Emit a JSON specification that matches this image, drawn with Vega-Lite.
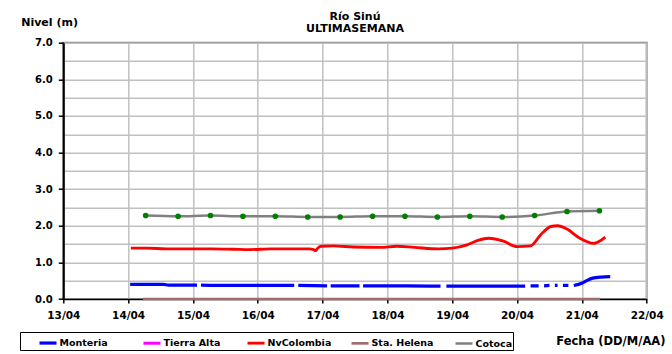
{
  "$schema": "https://vega.github.io/schema/vega-lite/v6.json",
  "width": 583.4,
  "height": 256.3,
  "autosize": {"type": "none"},
  "padding": {"left": 63.3, "top": 42.7, "right": 25.3, "bottom": 55},
  "background": "white",
  "title": {
    "text": ["Río Sinú", "ULTIMASEMANA"],
    "anchor": "middle",
    "frame": "group",
    "font": "DejaVu Sans",
    "fontSize": 11,
    "fontWeight": "bold",
    "color": "black",
    "lineHeight": 12.6,
    "offset": 0,
    "dy": 17.5
  },
  "config": {
    "view": {"stroke": "#808080", "strokeWidth": 2},
    "font": "DejaVu Sans"
  },
  "data": {
    "values": [
      {"serie": "Monteria", "fecha": "2024-04-14T00:45", "nivel": 0.40},
      {"serie": "Monteria", "fecha": "2024-04-14T13:00", "nivel": 0.40},
      {"serie": "Monteria", "fecha": "2024-04-14T15:00", "nivel": 0.38},
      {"serie": "Monteria", "fecha": "2024-04-15T01:30", "nivel": 0.38},
      {"serie": "Monteria", "fecha": "2024-04-15T02:10", "nivel": null},
      {"serie": "Monteria", "fecha": "2024-04-15T03:00", "nivel": 0.38},
      {"serie": "Monteria", "fecha": "2024-04-15T14:00", "nivel": 0.37},
      {"serie": "Monteria", "fecha": "2024-04-16T13:30", "nivel": 0.37},
      {"serie": "Monteria", "fecha": "2024-04-16T14:10", "nivel": null},
      {"serie": "Monteria", "fecha": "2024-04-16T15:00", "nivel": 0.37},
      {"serie": "Monteria", "fecha": "2024-04-17T01:40", "nivel": 0.36},
      {"serie": "Monteria", "fecha": "2024-04-17T02:25", "nivel": null},
      {"serie": "Monteria", "fecha": "2024-04-17T03:00", "nivel": 0.36},
      {"serie": "Monteria", "fecha": "2024-04-17T13:40", "nivel": 0.36},
      {"serie": "Monteria", "fecha": "2024-04-17T14:25", "nivel": null},
      {"serie": "Monteria", "fecha": "2024-04-17T15:00", "nivel": 0.36},
      {"serie": "Monteria", "fecha": "2024-04-18T07:00", "nivel": 0.36},
      {"serie": "Monteria", "fecha": "2024-04-18T19:40", "nivel": 0.35},
      {"serie": "Monteria", "fecha": "2024-04-18T20:40", "nivel": null},
      {"serie": "Monteria", "fecha": "2024-04-18T21:50", "nivel": 0.35},
      {"serie": "Monteria", "fecha": "2024-04-19T12:00", "nivel": 0.35},
      {"serie": "Monteria", "fecha": "2024-04-20T03:00", "nivel": 0.35},
      {"serie": "Monteria", "fecha": "2024-04-20T04:00", "nivel": null},
      {"serie": "Monteria", "fecha": "2024-04-20T05:00", "nivel": 0.36},
      {"serie": "Monteria", "fecha": "2024-04-20T08:00", "nivel": 0.36},
      {"serie": "Monteria", "fecha": "2024-04-20T09:00", "nivel": null},
      {"serie": "Monteria", "fecha": "2024-04-20T10:00", "nivel": 0.36},
      {"serie": "Monteria", "fecha": "2024-04-20T12:00", "nivel": 0.37},
      {"serie": "Monteria", "fecha": "2024-04-20T13:00", "nivel": null},
      {"serie": "Monteria", "fecha": "2024-04-20T14:00", "nivel": 0.37},
      {"serie": "Monteria", "fecha": "2024-04-20T15:00", "nivel": 0.37},
      {"serie": "Monteria", "fecha": "2024-04-20T16:00", "nivel": null},
      {"serie": "Monteria", "fecha": "2024-04-20T17:00", "nivel": 0.37},
      {"serie": "Monteria", "fecha": "2024-04-20T19:00", "nivel": 0.37},
      {"serie": "Monteria", "fecha": "2024-04-20T20:00", "nivel": null},
      {"serie": "Monteria", "fecha": "2024-04-20T21:00", "nivel": 0.37},
      {"serie": "Monteria", "fecha": "2024-04-21T00:00", "nivel": 0.43},
      {"serie": "Monteria", "fecha": "2024-04-21T02:00", "nivel": 0.51},
      {"serie": "Monteria", "fecha": "2024-04-21T04:00", "nivel": 0.57},
      {"serie": "Monteria", "fecha": "2024-04-21T07:00", "nivel": 0.60},
      {"serie": "Monteria", "fecha": "2024-04-21T10:30", "nivel": 0.61},

      {"serie": "NvColombia", "fecha": "2024-04-14T01:00", "nivel": 1.39},
      {"serie": "NvColombia", "fecha": "2024-04-14T07:00", "nivel": 1.39},
      {"serie": "NvColombia", "fecha": "2024-04-14T14:00", "nivel": 1.37},
      {"serie": "NvColombia", "fecha": "2024-04-15T00:00", "nivel": 1.37},
      {"serie": "NvColombia", "fecha": "2024-04-15T07:00", "nivel": 1.37},
      {"serie": "NvColombia", "fecha": "2024-04-15T15:00", "nivel": 1.36},
      {"serie": "NvColombia", "fecha": "2024-04-15T21:00", "nivel": 1.35},
      {"serie": "NvColombia", "fecha": "2024-04-16T05:00", "nivel": 1.37},
      {"serie": "NvColombia", "fecha": "2024-04-16T12:00", "nivel": 1.37},
      {"serie": "NvColombia", "fecha": "2024-04-16T19:00", "nivel": 1.37},
      {"serie": "NvColombia", "fecha": "2024-04-16T20:40", "nivel": 1.35},
      {"serie": "NvColombia", "fecha": "2024-04-16T21:20", "nivel": 1.32},
      {"serie": "NvColombia", "fecha": "2024-04-16T22:20", "nivel": 1.40},
      {"serie": "NvColombia", "fecha": "2024-04-16T23:30", "nivel": 1.44},
      {"serie": "NvColombia", "fecha": "2024-04-17T04:00", "nivel": 1.45},
      {"serie": "NvColombia", "fecha": "2024-04-17T11:30", "nivel": 1.42},
      {"serie": "NvColombia", "fecha": "2024-04-17T21:20", "nivel": 1.41},
      {"serie": "NvColombia", "fecha": "2024-04-18T03:30", "nivel": 1.44},
      {"serie": "NvColombia", "fecha": "2024-04-18T10:00", "nivel": 1.41},
      {"serie": "NvColombia", "fecha": "2024-04-18T19:00", "nivel": 1.37},
      {"serie": "NvColombia", "fecha": "2024-04-19T00:00", "nivel": 1.39},
      {"serie": "NvColombia", "fecha": "2024-04-19T05:30", "nivel": 1.48},
      {"serie": "NvColombia", "fecha": "2024-04-19T09:30", "nivel": 1.60},
      {"serie": "NvColombia", "fecha": "2024-04-19T13:30", "nivel": 1.66},
      {"serie": "NvColombia", "fecha": "2024-04-19T19:00", "nivel": 1.58},
      {"serie": "NvColombia", "fecha": "2024-04-20T00:00", "nivel": 1.43},
      {"serie": "NvColombia", "fecha": "2024-04-20T05:00", "nivel": 1.45},
      {"serie": "NvColombia", "fecha": "2024-04-20T08:40", "nivel": 1.75},
      {"serie": "NvColombia", "fecha": "2024-04-20T12:30", "nivel": 1.98},
      {"serie": "NvColombia", "fecha": "2024-04-20T15:00", "nivel": 2.00},
      {"serie": "NvColombia", "fecha": "2024-04-20T18:30", "nivel": 1.91},
      {"serie": "NvColombia", "fecha": "2024-04-20T23:15", "nivel": 1.66},
      {"serie": "NvColombia", "fecha": "2024-04-21T04:20", "nivel": 1.52},
      {"serie": "NvColombia", "fecha": "2024-04-21T07:00", "nivel": 1.60},
      {"serie": "NvColombia", "fecha": "2024-04-21T08:40", "nivel": 1.69},

      {"serie": "Sta. Helena", "fecha": "2024-04-14T05:30", "nivel": 0.0},
      {"serie": "Sta. Helena", "fecha": "2024-04-21T06:45", "nivel": 0.0},

      {"serie": "Cotoca", "fecha": "2024-04-14T06:30", "nivel": 2.28},
      {"serie": "Cotoca", "fecha": "2024-04-14T18:30", "nivel": 2.26},
      {"serie": "Cotoca", "fecha": "2024-04-15T06:30", "nivel": 2.28},
      {"serie": "Cotoca", "fecha": "2024-04-15T18:30", "nivel": 2.26},
      {"serie": "Cotoca", "fecha": "2024-04-16T06:30", "nivel": 2.26},
      {"serie": "Cotoca", "fecha": "2024-04-16T18:30", "nivel": 2.24},
      {"serie": "Cotoca", "fecha": "2024-04-17T06:30", "nivel": 2.24},
      {"serie": "Cotoca", "fecha": "2024-04-17T18:30", "nivel": 2.26},
      {"serie": "Cotoca", "fecha": "2024-04-18T06:30", "nivel": 2.26},
      {"serie": "Cotoca", "fecha": "2024-04-18T18:30", "nivel": 2.24},
      {"serie": "Cotoca", "fecha": "2024-04-19T06:30", "nivel": 2.26},
      {"serie": "Cotoca", "fecha": "2024-04-19T18:30", "nivel": 2.24},
      {"serie": "Cotoca", "fecha": "2024-04-20T06:30", "nivel": 2.28},
      {"serie": "Cotoca", "fecha": "2024-04-20T18:30", "nivel": 2.39},
      {"serie": "Cotoca", "fecha": "2024-04-21T06:30", "nivel": 2.41}
    ]
  },
  "encoding": {
    "x": {
      "field": "fecha",
      "type": "temporal",
      "scale": {"domain": [{"year": 2024, "month": 4, "date": 13}, {"year": 2024, "month": 4, "date": 22}]},
      "axis": {
        "format": "%d/%m",
        "tickCount": {"interval": "day", "step": 1},
        "labelFlush": false,
        "labelOverlap": false,
        "labelFont": "DejaVu Sans",
        "labelFontSize": 10.5,
        "labelFontWeight": "bold",
        "labelColor": "black",
        "labelPadding": 7,
        "domainColor": "black",
        "domainWidth": 1.5,
        "tickColor": "black",
        "tickSize": 4,
        "tickWidth": 1.5,
        "grid": true,
        "gridColor": "#c0c0c0",
        "gridWidth": 1.5,
        "title": "Fecha (DD/M/AA)",
        "titleFont": "DejaVu Sans",
        "titleFontSize": 11.5,
        "titleFontWeight": "bold",
        "titleColor": "black",
        "titleX": 601.7,
        "titleY": 42.7,
        "titleAlign": "right",
        "titleBaseline": "middle"
      }
    },
    "y": {
      "field": "nivel",
      "type": "quantitative",
      "scale": {"domain": [0, 7], "nice": false},
      "axis": {
        "values": [0, 0.5, 1, 1.5, 2, 2.5, 3, 3.5, 4, 4.5, 5, 5.5, 6, 6.5, 7],
        "labelExpr": "datum.value % 1 === 0 ? format(datum.value, '.1f') : ''",
        "labelFont": "DejaVu Sans",
        "labelFontSize": 10,
        "labelFontWeight": "bold",
        "labelColor": "black",
        "labelPadding": 6,
        "domainColor": "black",
        "domainWidth": 2,
        "tickColor": "black",
        "tickSize": 5,
        "tickWidth": 1.5,
        "tickOpacity": {"condition": {"test": "datum.value % 1 !== 0", "value": 0}, "value": 1},
        "grid": true,
        "gridColor": "#c0c0c0",
        "gridWidth": 1.5,
        "title": "Nivel (m)",
        "titleFont": "DejaVu Sans",
        "titleFontSize": 11,
        "titleFontWeight": "bold",
        "titleColor": "black",
        "titleAngle": 0,
        "titleX": -42.6,
        "titleY": -20,
        "titleAlign": "left",
        "titleBaseline": "middle"
      }
    }
  },
  "layer": [
    {
      "mark": {"type": "line", "interpolate": "monotone", "strokeCap": "butt"},
      "encoding": {
        "color": {
          "field": "serie",
          "type": "nominal",
          "scale": {
            "domain": ["Monteria", "Tierra Alta", "NvColombia", "Sta. Helena", "Cotoca"],
            "range": ["#0000FF", "#FF00FF", "#FF0000", "#A06E6E", "#808080"]
          },
          "legend": {
            "orient": "none",
            "legendX": -43.3,
            "legendY": 289.3,
            "direction": "horizontal",
            "columns": 5,
            "gridAlign": "all",
            "title": "\u00a0",
            "titleOrient": "left",
            "titlePadding": 17,
            "titleFontSize": 9.5,
            "symbolType": "stroke",
            "symbolSize": 289,
            "symbolStrokeWidth": 3,
            "labelFont": "DejaVu Sans",
            "labelFontSize": 9.5,
            "labelFontWeight": "bold",
            "labelColor": "black",
            "labelOffset": 1,
            "columnPadding": 13,
            "padding": 0.5,
            "strokeColor": "black",
            "fillColor": "white"
          }
        },
        "strokeWidth": {
          "field": "serie",
          "type": "nominal",
          "scale": {
            "domain": ["Monteria", "Tierra Alta", "NvColombia", "Sta. Helena", "Cotoca"],
            "range": [3.2, 2.5, 3, 2, 3]
          },
          "legend": null
        }
      }
    },
    {
      "transform": [{"filter": "datum.serie === 'Cotoca'"}],
      "mark": {"type": "point", "filled": true, "color": "#008000", "size": 32, "opacity": 1},
      "encoding": {}
    }
  ]
}
